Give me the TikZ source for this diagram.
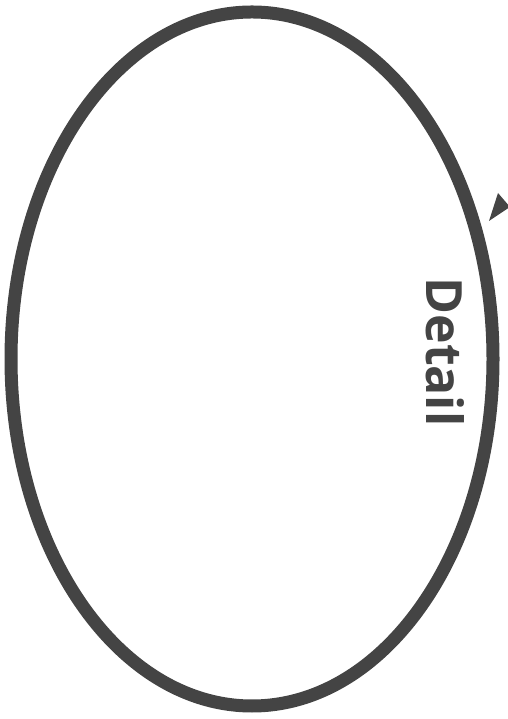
\documentclass[tikz,border=0pt]{standalone}
\usepackage{fontspec}
\setmainfont{Open Sans}
\definecolor{ink}{HTML}{444444}
\begin{document}
\begin{tikzpicture}[x=1pt,y=1pt,
  outline/.style={draw=ink,line width=13pt},
  label/.style={text=ink,font=\fontsize{50}{60}\selectfont\bfseries,rotate=-90,inner sep=0pt}]
\useasboundingbox (0,0) rectangle (507,719);
\draw[outline] (252,360) ellipse [x radius=241, y radius=347];
\node[label] (detail) at (445,367) {Detail};
\fill[ink] (489,498) -- (498,526) -- (510,512) -- cycle;
\end{tikzpicture}
\end{document}
